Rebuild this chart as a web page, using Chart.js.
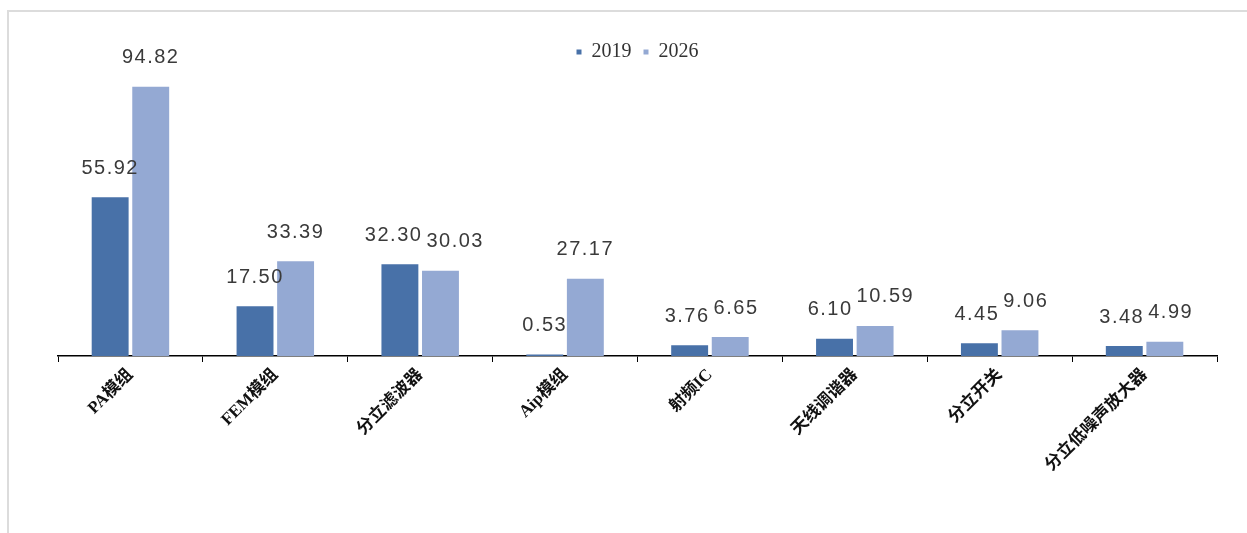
<!DOCTYPE html>
<html>
<head>
<meta charset="utf-8">
<script src="https://cdn.jsdelivr.net/npm/chart.js@4"></script>
<style>
  body { margin: 0; background: #fff; }
  #frame {
    position: absolute; left: 7px; top: 10px;
    border-top: 2px solid #dcdcdc; border-left: 2px solid #dcdcdc;
  }
  canvas { display: block; }
</style>
</head>
<body>
<div id="frame"><canvas id="rf_chart" width="1238" height="521"></canvas></div>
<script>
// categories along the x-axis
var products = ["PA模组", "FEM模组", "分立滤波器", "Aip模组", "射频IC", "天线调谐器", "分立开关", "分立低噪声放大器"];

// market size per product
var y2019 = [55.92, 17.50, 32.30, 0.53, 3.76, 6.10, 4.45, 3.48];
var y2026 = [94.82, 33.39, 30.03, 27.17, 6.65, 10.59, 9.06, 4.99];

// writes the value above each bar, pushing the pair apart when they collide
var valueLabels = {
    id: "valueLabels",
    afterDatasetsDraw: function (chart) {
        var ctx = chart.ctx;
        ctx.save();
        ctx.font = "20px 'Liberation Sans'";
        ctx.letterSpacing = "1.5px";
        ctx.fillStyle = "#3a3a3a";
        ctx.textAlign = "center";
        ctx.textBaseline = "middle";
        var a = chart.getDatasetMeta(0).data;
        var b = chart.getDatasetMeta(1).data;
        a.forEach(function (barA, j) {
            var barB = b[j];
            var tA = y2019[j].toFixed(2), tB = y2026[j].toFixed(2);
            var wA = ctx.measureText(tA).width, wB = ctx.measureText(tB).width;
            var xA = barA.x, xB = barB.x;
            var yA = barA.y - 29, yB = barB.y - 29;
            var need = (wA + wB) / 2 + 4 - (xB - xA);
            if (need > 0 && Math.abs(yA - yB) < 22) {
                xA -= need * 0.3;
                xB += need * 0.7;
            }
            ctx.fillText(tA, xA, yA);
            ctx.fillText(tB, xB, yB);
        });
        ctx.restore();
    }
};

var ctx = document.getElementById("rf_chart");
var myChart = new Chart(ctx, {
    type: 'bar',
    data: {
        labels: products,
        datasets: [
            {
                data: y2019,
                label: "2019",
                backgroundColor: "#4871a8",
                categoryPercentage: 0.56,
                barPercentage: 0.91
            },
            {
                data: y2026,
                label: "2026",
                backgroundColor: "#94a9d3",
                categoryPercentage: 0.56,
                barPercentage: 0.91
            }
        ]
    },
    options: {
        responsive: false,
        animation: false,
        layout: { padding: { left: 49, right: 30, top: 18, bottom: 0 } },
        plugins: {
            tooltip: { enabled: false },
            legend: {
                labels: {
                    usePointStyle: true,
                    pointStyle: 'rect',
                    boxWidth: 5,
                    boxHeight: 5,
                    padding: 12,
                    color: "#333",
                    font: { family: "'Liberation Serif'", size: 20 }
                }
            }
        },
        scales: {
            x: {
                afterFit: function (s) { s.height = 177; },
                border: { display: true, color: "#000", width: 1.5 },
                grid: { display: true, drawOnChartArea: false, drawTicks: true, tickLength: 6, color: "#000", offset: true },
                ticks: {
                    minRotation: 45,
                    maxRotation: 45,
                    color: "#111",
                    padding: 3,
                    font: { family: "'Liberation Serif', 'Noto Sans CJK SC'", size: 17, weight: "bold" }
                }
            },
            y: {
                display: false,
                min: 0,
                max: 100
            }
        }
    },
    plugins: [valueLabels]
});
</script>
</body>
</html>
